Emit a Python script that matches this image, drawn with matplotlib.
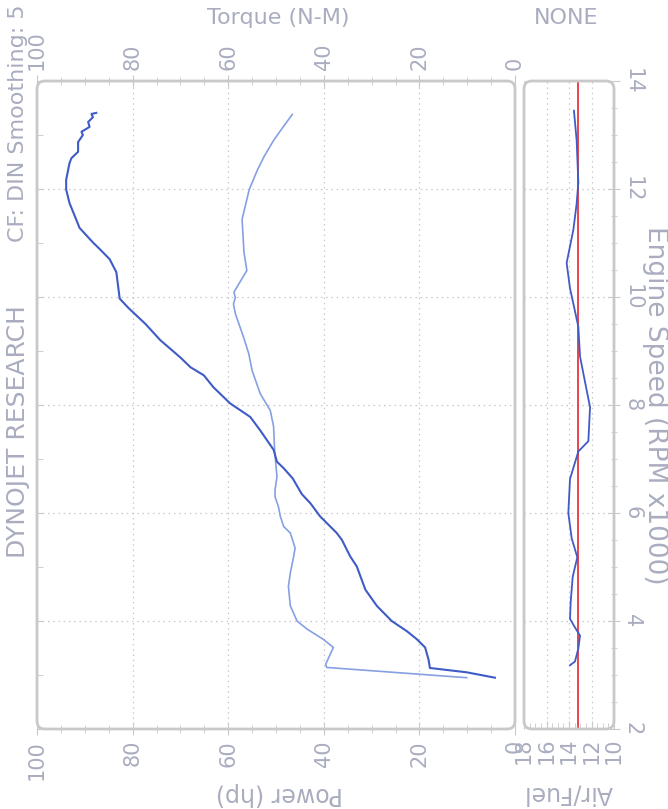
import matplotlib
matplotlib.use("Agg")
import matplotlib.pyplot as plt
from matplotlib.patches import FancyBboxPatch
from matplotlib.ticker import MultipleLocator

# ---------------- data ----------------
power_rpm = [2.95, 3.05, 3.13, 3.29, 3.51, 3.66, 3.81, 4.0, 4.28, 4.58, 5.01, 5.2, 5.5,
             5.63, 5.94, 6.18, 6.35, 6.64, 6.83, 6.95, 7.17, 7.53, 7.78, 8.03, 8.33, 8.55,
             8.7, 8.88, 9.2, 9.5, 9.8, 9.97, 10.46, 10.70, 10.89, 11.01, 11.28, 11.50,
             11.74, 11.99, 12.17, 12.48, 12.57, 12.69, 12.87, 13.0, 13.06, 13.15, 13.24,
             13.33, 13.39, 13.41]
power_hp = [4.2, 10.1, 17.8, 18.1, 18.8, 20.5, 22.6, 25.8, 28.9, 31.3, 33.1, 34.5, 36.2,
            37.3, 40.8, 42.8, 44.6, 46.5, 48.4, 49.8, 50.5, 53.3, 55.4, 59.6, 63.1, 65.1,
            67.9, 70.0, 74.2, 77.3, 80.9, 82.7, 83.4, 84.8, 86.9, 88.3, 91.1, 92.1,
            93.2, 93.9, 93.9, 93.2, 92.8, 91.4, 91.4, 90.4, 90.7, 89.0, 89.3,
            88.3, 88.6, 87.6]

torque_rpm = [2.95, 3.14, 3.2, 3.51, 3.66, 3.85, 4.0, 4.28, 4.64, 4.89, 5.2, 5.35, 5.63,
              5.75, 5.94, 6.12, 6.3, 6.43, 6.67, 7.17, 7.6, 7.9, 8.21, 8.64, 8.95, 9.26,
              9.69, 9.87, 9.99, 10.09, 10.49, 10.83, 11.44, 11.99, 12.35, 12.6, 12.9,
              13.15, 13.38]
torque_nm = [10.1, 39.4, 39.6, 38.0, 40.1, 43.5, 45.6, 47.0, 47.4, 47.0, 46.3, 46.0, 47.0,
             48.4, 49.1, 49.5, 50.2, 50.2, 49.8, 50.3, 50.5, 51.2, 53.3, 55.0, 55.7, 56.8,
             58.5, 58.9, 58.5, 58.8, 56.1, 56.7, 57.1, 55.6, 53.9, 52.5, 50.5,
             48.5, 46.6]

af_rpm = [3.18, 3.25, 3.49, 3.73, 3.88, 4.04, 4.35, 4.82, 5.18, 5.53, 6.0, 6.63, 7.14,
          7.33, 7.96, 8.59, 8.9, 9.45, 10.16, 10.63, 11.25, 11.73, 12.12, 12.9, 13.45]
af_ratio = [13.91, 13.47, 13.17, 13.02, 13.47, 13.91, 13.85, 13.67, 13.26, 13.76, 14.06,
            13.91, 13.17, 12.28, 12.13, 12.73, 13.02, 13.17, 13.91, 14.21, 13.61, 13.32,
            13.17, 13.32, 13.56]
af_target = 13.2

power_ticks = [0, 20, 40, 60, 80, 100]
af_ticks = [10, 12, 14, 16, 18]
rpm_ticks = [2, 4, 6, 8, 10, 12, 14]

# ---------------- style ----------------
TXT = "#a9adbf"
FRAME = "#c9c9cc"
GRID = "#c8c8cc"
DARK = "#3f5cc6"
LIGHT = "#86a0e2"
W, H = 668, 809

fig = plt.figure(figsize=(W / 100, H / 100), dpi=100)
fig.patch.set_facecolor("white")

def fx(px):
    return px / W

def fy(py):
    return 1 - py / H

top_px, bot_px = 81, 729
ax = fig.add_axes([fx(37), fy(bot_px), fx(515) - fx(37), fy(top_px) - fy(bot_px)])
af = fig.add_axes([fx(524), fy(bot_px), fx(614) - fx(524), fy(top_px) - fy(bot_px)])

for a in (ax, af):
    for s in a.spines.values():
        s.set_visible(False)
    a.set_facecolor("none")

# main panel
ax.set_xlim(100, 0)
ax.set_ylim(2, 14)
ax.plot(torque_nm, torque_rpm, color=LIGHT, lw=1.2, zorder=3)
ax.plot(power_hp, power_rpm, color=DARK, lw=1.5, zorder=4)
ax.set_xticks(power_ticks)
ax.set_xticklabels([str(t) for t in power_ticks])
ax.xaxis.set_minor_locator(MultipleLocator(5))
ax.set_yticks(rpm_ticks)
ax.yaxis.set_minor_locator(MultipleLocator(1))
ax.grid(True, which="major", ls=(0, (1.2, 3)), color=GRID, lw=0.9)
ax.tick_params(axis="x", which="both", top=True, bottom=True, labeltop=True,
               labelbottom=True, direction="inout", color=FRAME, labelcolor=TXT,
               labelsize=15, labelrotation=90, pad=4)
ax.tick_params(axis="x", which="major", length=8)
ax.tick_params(axis="x", which="minor", length=6)
ax.tick_params(axis="y", which="both", left=True, right=False, labelleft=False,
               direction="in", color=FRAME, length=4)

# air/fuel panel
af.set_xlim(18, 10)
af.set_ylim(2, 14)
af.axvline(af_target, color="#e8242c", lw=1.2, zorder=3)
af.plot(af_ratio, af_rpm, color=DARK, lw=1.3, zorder=4)
af.set_xticks(af_ticks)
af.set_xticklabels([str(t) for t in af_ticks])
af.xaxis.set_minor_locator(MultipleLocator(0.5))
af.set_yticks(rpm_ticks)
af.set_yticklabels([str(t) for t in rpm_ticks])
af.yaxis.set_minor_locator(MultipleLocator(0.5))
af.grid(True, which="major", ls=(0, (1.2, 3)), color=GRID, lw=0.9)
af.tick_params(axis="x", which="both", bottom=True, top=False, labelbottom=True,
               direction="in", color=FRAME, labelcolor=TXT, labelsize=15,
               labelrotation=90, pad=6)
af.tick_params(axis="x", which="major", length=6)
af.tick_params(axis="x", which="minor", length=4)
af.tick_params(axis="y", which="both", left=False, right=True, labelleft=False,
               labelright=True, direction="inout", color=FRAME, labelcolor=TXT,
               labelsize=15, labelrotation=270, pad=2)
af.tick_params(axis="y", which="major", length=8)
af.tick_params(axis="y", which="minor", length=5)
for lbl in af.get_yticklabels():
    lbl.set_va("center")

# rounded frames
for (x0, x1) in ((37, 515), (524, 614)):
    box = FancyBboxPatch((fx(x0), fy(bot_px)), fx(x1) - fx(x0), fy(top_px) - fy(bot_px),
                         boxstyle="round,pad=0,rounding_size=%f" % (8 / W),
                         mutation_aspect=W / H, transform=fig.transFigure,
                         fill=False, ec=FRAME, lw=2.0, zorder=10)
    fig.add_artist(box)

# texts
fig.text(fx(278), fy(18), "Torque (N-M)", color=TXT, fontsize=16, ha="center", va="center")
fig.text(fx(566), fy(18), "NONE", color=TXT, fontsize=16, ha="center", va="center")
fig.text(fx(279), fy(794), "Power (hp)", color=TXT, fontsize=17, ha="center",
         va="center", rotation=180)
fig.text(fx(568), fy(794), "Air/Fuel", color=TXT, fontsize=17, ha="center",
         va="center", rotation=180)
fig.text(fx(655), fy(405), "Engine Speed (RPM x1000)", color=TXT, fontsize=19,
         ha="center", va="center", rotation=270)
fig.text(fx(18), fy(432), "DYNOJET RESEARCH", color=TXT, fontsize=18, ha="center",
         va="center", rotation=90)
fig.text(fx(18), fy(4), "CF: DIN Smoothing: 5", color=TXT, fontsize=16, ha="center",
         va="top", rotation=90)

fig.savefig("out.png", dpi=100, facecolor="white")
